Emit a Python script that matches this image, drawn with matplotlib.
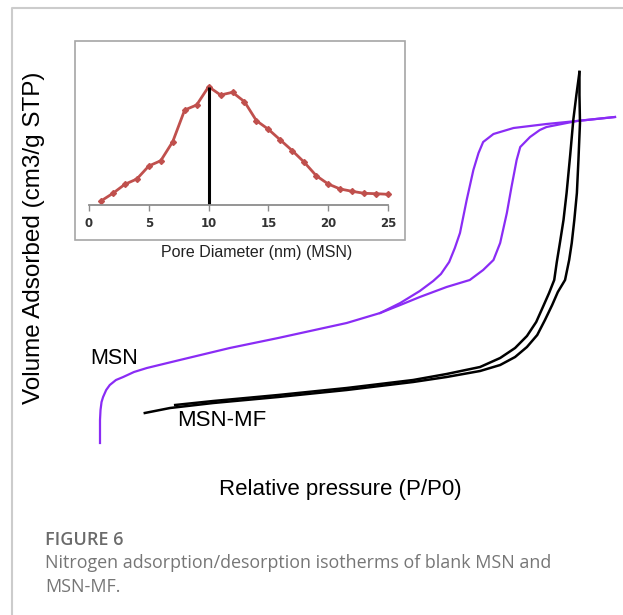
import matplotlib
matplotlib.use("Agg")
import matplotlib.pyplot as plt
from matplotlib.patches import Rectangle
from matplotlib.lines import Line2D

# --- isotherm data (relative pressure P/P0, volume adsorbed, arbitrary units)
msn_ads_p = [0.000, 0.000, 0.001, 0.003, 0.006, 0.012, 0.019, 0.031, 0.045, 0.066, 0.091,
             0.155, 0.252, 0.346, 0.479, 0.544, 0.583, 0.621, 0.673, 0.718, 0.744, 0.764,
             0.777, 0.790, 0.799, 0.809, 0.816, 0.835, 0.854, 0.867, 0.926, 1.000]
msn_ads_v = [0, 23, 33, 41, 46, 53, 58, 63, 66, 71, 75,
             83, 95, 105, 120, 130, 138, 146, 156, 163, 173, 183,
             200, 230, 256, 283, 296, 306, 313, 316, 322, 326]
msn_des_p = [1.000, 0.926, 0.867, 0.803, 0.764, 0.744, 0.735, 0.725, 0.712, 0.699, 0.689,
             0.678, 0.662, 0.647, 0.621, 0.583, 0.544]
msn_des_v = [326, 322, 319, 315, 309, 301, 290, 273, 243, 210, 195,
             181, 169, 162, 152, 140, 130]

mf_ads_p = [0.087, 0.136, 0.220, 0.346, 0.479, 0.608, 0.673, 0.738, 0.777, 0.806, 0.829,
            0.849, 0.864, 0.878, 0.889, 0.903, 0.911, 0.916, 0.921, 0.926, 0.929, 0.932,
            0.931, 0.931]
mf_ads_v = [30, 35, 40, 46, 53, 61, 66, 72, 78, 86, 96,
            108, 123, 138, 151, 163, 183, 200, 223, 250, 283, 320,
            348, 371]
mf_des_p = [0.931, 0.925, 0.919, 0.913, 0.906, 0.900, 0.893, 0.887, 0.882, 0.872, 0.860,
            0.847, 0.829, 0.806, 0.777, 0.738, 0.673, 0.608, 0.479, 0.346, 0.220, 0.146]
mf_des_v = [371, 348, 323, 288, 250, 223, 200, 181, 163, 150, 136,
            121, 107, 95, 85, 76, 69, 63, 55, 48, 42, 38]

# --- inset pore size distribution (MSN)
pore_d = list(range(1, 26))
pore_dv = [4, 11.7, 20.7, 26, 39, 44.3, 63.3, 95, 100, 118.3, 110, 112.7, 103.3,
           84.3, 75.7, 65, 54.3, 42.7, 29.3, 21, 16, 13.7, 11.7, 11.3, 10.7]
pore_ticks = [0, 5, 10, 15, 20, 25]
peak_d = 10
peak_dv = 118.3

W, H = 623, 615
purple = "#8a2cf5"

fig = plt.figure(figsize=(W / 100, H / 100), dpi=100)
fig.patch.set_facecolor("white")


def fx(px):
    return px / W


def fy(py):
    return 1 - py / H


# page frame (light grey border at top and left)
fig.add_artist(Line2D([fx(12), fx(12), 1], [0, fy(8), fy(8)],
                      transform=fig.transFigure, color="#cccccc", lw=1.5))

# main isotherm axes
ax = fig.add_axes([fx(100), fy(443), fx(615) - fx(100), fy(71) - fy(443)])
ax.set_xlim(0, 1)
ax.set_ylim(0, 372)
ax.axis("off")
ax.plot(msn_ads_p, msn_ads_v, color=purple, lw=1.6, clip_on=False)
ax.plot(msn_des_p, msn_des_v, color=purple, lw=1.6, clip_on=False)
ax.plot(mf_ads_p, mf_ads_v, color="black", lw=1.8, clip_on=False)
ax.plot(mf_des_p, mf_des_v, color="black", lw=1.8, clip_on=False)

fig.text(fx(114), fy(358), "MSN", fontsize=15.5, family="Liberation Sans",
         ha="center", va="center")
fig.text(fx(222), fy(420), "MSN-MF", fontsize=16, family="Liberation Sans",
         ha="center", va="center")

fig.text(fx(340), fy(490), "Relative pressure (P/P0)", fontsize=16,
         family="Liberation Sans", ha="center", va="center")
fig.text(fx(34), fy(238), "Volume Adsorbed (cm3/g STP)", fontsize=17.5,
         family="Liberation Sans", ha="center", va="center", rotation=90)

# inset box and axes
fig.add_artist(Rectangle((fx(75), fy(240)), fx(405) - fx(75), fy(41) - fy(240),
                         transform=fig.transFigure, fill=False,
                         edgecolor="#a6a6a6", lw=1.2))
ins = fig.add_axes([fx(89), fy(205), fx(388) - fx(89), fy(55) - fy(205)])
ins.set_xlim(0, 25)
ins.set_ylim(0, 150)
for s in ["top", "right", "left"]:
    ins.spines[s].set_visible(False)
ins.spines["bottom"].set_color("#8c8c8c")
ins.spines["bottom"].set_linewidth(1.3)
ins.set_yticks([])
ins.set_xticks(pore_ticks)
ins.tick_params(axis="x", direction="out", length=4, width=1, color="#8c8c8c",
                labelsize=8.5, pad=5, labelcolor="#333333")
for lab in ins.get_xticklabels():
    lab.set_fontweight("bold")
ins.patch.set_alpha(0)
ins.plot(pore_d, pore_dv, color="#c0504d", lw=2, marker="D", ms=3,
         clip_on=False)
ins.vlines(peak_d, 0, peak_dv, color="black", lw=2.2)

fig.text(fx(257), fy(253), "Pore Diameter (nm) (MSN)", fontsize=11.5,
         family="Liberation Sans", ha="center", va="center", color="#222222")

# caption
fig.text(fx(45), fy(540), "FIGURE 6", fontsize=13, family="Open Sans",
         fontweight="semibold", color="#6b6b6b", ha="left", va="center")
fig.text(fx(45), fy(563), "Nitrogen adsorption/desorption isotherms of blank MSN and",
         fontsize=12.9, family="Open Sans", color="#767676", ha="left", va="center")
fig.text(fx(45), fy(587), "MSN-MF.", fontsize=12.9, family="Open Sans",
         color="#767676", ha="left", va="center")

fig.savefig("out.png", dpi=100)
